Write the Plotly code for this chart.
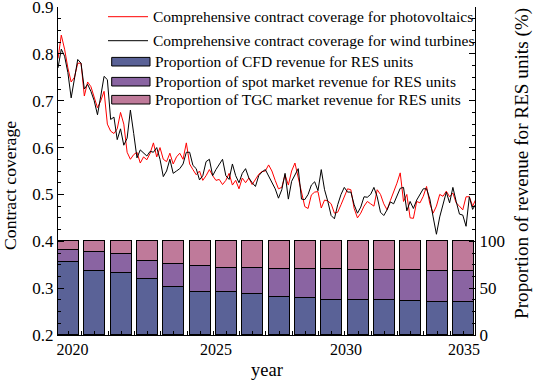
import plotly.graph_objects as go

# ---------------- data ----------------
years = list(range(2020, 2036))
cfd_share = [78.0, 68.6, 66.0, 59.7, 50.7, 46.4, 45.4, 43.3, 40.1, 39.0, 37.6, 37.3, 37.0, 36.2, 35.7, 35.0]
spot_share = [12.3, 20.4, 20.5, 18.9, 25.1, 26.8, 26.2, 27.7, 30.1, 31.5, 32.3, 31.9, 32.6, 32.8, 33.1, 33.4]
tgc_share = [9.7, 11.0, 13.5, 21.4, 24.2, 26.8, 28.4, 29.0, 29.8, 29.5, 30.1, 30.8, 30.4, 31.0, 31.2, 31.6]

# contract coverage series sampled every 1.5 months from the start of the horizon
pv_coverage = [
    0.79, 0.84, 0.81, 0.77, 0.74, 0.75, 0.78, 0.78, 0.71, 0.74,
    0.73, 0.705, 0.685, 0.70, 0.72, 0.65, 0.635, 0.63, 0.64, 0.675,
    0.65, 0.59, 0.575, 0.585, 0.59, 0.567, 0.58, 0.574, 0.588, 0.61,
    0.58, 0.60, 0.575, 0.57, 0.588, 0.565, 0.58, 0.588, 0.575, 0.61,
    0.565, 0.553, 0.542, 0.55, 0.53, 0.54, 0.553, 0.54, 0.53, 0.532,
    0.521, 0.53, 0.545, 0.52, 0.53, 0.512, 0.535, 0.525, 0.535, 0.521,
    0.532, 0.543, 0.549, 0.55, 0.563, 0.55, 0.53, 0.512, 0.515, 0.542,
    0.52, 0.55, 0.567, 0.535, 0.51, 0.474, 0.47, 0.499, 0.505, 0.506,
    0.471, 0.488, 0.486, 0.48, 0.46, 0.462, 0.478, 0.495, 0.512, 0.51,
    0.47, 0.45, 0.46, 0.475, 0.485, 0.48, 0.475, 0.51, 0.50, 0.48,
    0.467, 0.487, 0.505, 0.524, 0.546, 0.485, 0.50, 0.45, 0.449, 0.485,
    0.482, 0.496, 0.517, 0.48, 0.46, 0.475, 0.50, 0.496, 0.507, 0.495,
    0.503, 0.482, 0.475, 0.467, 0.495, 0.495, 0.475, 0.49,
]
wind_coverage = [
    0.77, 0.81, 0.795, 0.76, 0.706, 0.75, 0.788, 0.78, 0.725, 0.735,
    0.72, 0.70, 0.67, 0.71, 0.752, 0.745, 0.66, 0.665, 0.617, 0.64,
    0.605, 0.62, 0.68, 0.63, 0.578, 0.595, 0.588, 0.582, 0.592, 0.59,
    0.60, 0.575, 0.538, 0.55, 0.575, 0.545, 0.55, 0.555, 0.565, 0.59,
    0.59, 0.562, 0.555, 0.531, 0.54, 0.57, 0.575, 0.54, 0.553, 0.565,
    0.575, 0.54, 0.532, 0.565, 0.54, 0.525, 0.545, 0.555, 0.535, 0.525,
    0.517, 0.54, 0.548, 0.553, 0.54, 0.527, 0.512, 0.492, 0.51, 0.545,
    0.49, 0.528, 0.54, 0.555, 0.49, 0.489, 0.50, 0.52, 0.527, 0.508,
    0.553, 0.51, 0.485, 0.455, 0.448, 0.478, 0.50, 0.515, 0.505, 0.505,
    0.478, 0.46, 0.473, 0.495, 0.494, 0.50, 0.515, 0.495, 0.462, 0.455,
    0.467, 0.484, 0.48, 0.497, 0.513, 0.515, 0.465, 0.485, 0.47, 0.488,
    0.499, 0.512, 0.512, 0.49, 0.452, 0.415, 0.452, 0.478, 0.505, 0.482,
    0.515, 0.485, 0.458, 0.456, 0.432, 0.495, 0.468, 0.48,
]
line_step = 0.125   # years between samples
year_tick_labels = ["2020", "2025", "2030", "2035"]
year_tick_pos = [0.55, 6.0, 10.94, 15.42]

series_names = [
    "Comprehensive contract coverage for photovoltaics",
    "Comprehensive contract coverage for wind turbines",
    "Proportion of CFD revenue for RES units",
    "Proportion of spot market revenue for RES units",
    "Proportion of TGC market revenue for RES units",
]

# ---------------- style ----------------
FONT = "Liberation Serif, Times New Roman, serif"
C_PV = "#ff0000"
C_WIND = "#000000"
C_CFD = "#5a6297"
C_SPOT = "#8a64a2"
C_TGC = "#bf7a9a"

W, H = 533, 382
ML, MR, MT, MB = 58, 58, 7, 47
PW, PH = W - ML - MR, H - MT - MB


def px_x(px):
    return (px - ML) / PW


def px_y(py):
    return (H - MB - py) / PH


bar_x = [i + 0.4 for i in range(len(years))]
line_x_pv = [k * line_step for k in range(len(pv_coverage))]
line_x_wind = [k * line_step for k in range(len(wind_coverage))]

fig = go.Figure()
fig.add_trace(go.Scatter(x=line_x_pv, y=pv_coverage, mode="lines",
                         line=dict(color=C_PV, width=1), name=series_names[0], yaxis="y"))
fig.add_trace(go.Scatter(x=line_x_wind, y=wind_coverage, mode="lines",
                         line=dict(color=C_WIND, width=1), name=series_names[1], yaxis="y"))
bar_line = dict(color="#000000", width=1)
fig.add_trace(go.Bar(x=bar_x, y=cfd_share, width=0.8, marker=dict(color=C_CFD, line=bar_line),
                     name=series_names[2], yaxis="y2"))
fig.add_trace(go.Bar(x=bar_x, y=spot_share, width=0.8, marker=dict(color=C_SPOT, line=bar_line),
                     name=series_names[3], yaxis="y2"))
fig.add_trace(go.Bar(x=bar_x, y=tgc_share, width=0.8, marker=dict(color=C_TGC, line=bar_line),
                     name=series_names[4], yaxis="y2"))

minor_x = sorted([i + 0.4 for i in range(16)] + [i + 0.9 for i in range(16)])

# ---------- hand-drawn legend (wide bar swatches like the original) ----------
shapes = []
annotations = []
legend_rows_y = [16.7, 40.7, 61.7, 81.7, 99.7]
for i, name in enumerate(series_names):
    yc = legend_rows_y[i]
    if i < 2:
        shapes.append(dict(type="line", xref="paper", yref="paper",
                           x0=px_x(108), x1=px_x(148), y0=px_y(yc), y1=px_y(yc),
                           line=dict(color=[C_PV, C_WIND][i], width=1)))
        tx = 150.5
    else:
        shapes.append(dict(type="rect", xref="paper", yref="paper",
                           x0=px_x(111.7), x1=px_x(150), y0=px_y(yc - 4.3), y1=px_y(yc + 4.3),
                           fillcolor=[C_CFD, C_SPOT, C_TGC][i - 2],
                           line=dict(color="black", width=1)))
        tx = 152.5
    annotations.append(dict(text=name, xref="paper", yref="paper", x=px_x(tx), y=px_y(yc),
                            xanchor="left", yanchor="middle", showarrow=False,
                            font=dict(family=FONT, size=15.5, color="black")))

annotations += [
    dict(text="Contract coverage", xref="paper", yref="paper", x=px_x(10), y=px_y(186),
         xanchor="center", yanchor="middle", textangle=-90, showarrow=False,
         font=dict(family=FONT, size=17.7)),
    dict(text="Proportion of revenue for RES units (%)", xref="paper", yref="paper",
         x=px_x(522), y=px_y(164), xanchor="center", yanchor="middle", textangle=-90,
         showarrow=False, font=dict(family=FONT, size=19.2)),
    dict(text="year", xref="paper", yref="paper", x=0.5, y=px_y(370),
         xanchor="center", yanchor="middle", showarrow=False,
         font=dict(family=FONT, size=18.5)),
]

fig.update_layout(
    width=W, height=H,
    margin=dict(l=ML, r=MR, t=MT, b=MB, autoexpand=False),
    paper_bgcolor="white", plot_bgcolor="white",
    barmode="stack", bargap=0,
    font=dict(family=FONT, size=16, color="black"),
    showlegend=False,
    shapes=shapes,
    annotations=annotations,
    xaxis=dict(range=[0, 15.84], showgrid=False, zeroline=False, automargin=False,
               showline=True, linecolor="black", linewidth=1, mirror=False,
               tickmode="array", tickvals=year_tick_pos, ticktext=year_tick_labels,
               ticks="", tickfont=dict(size=16),
               minor=dict(tickmode="array", tickvals=minor_x, ticks="inside",
                          ticklen=4, tickcolor="black", showgrid=False)),
    yaxis=dict(range=[0.2, 0.9], showgrid=False, zeroline=False, automargin=False,
               showline=True, linecolor="black", linewidth=1,
               tickmode="array", tickvals=[0.2, 0.3, 0.4, 0.5, 0.6, 0.7, 0.8, 0.9],
               ticktext=["0.2", "0.3", "0.4", "0.5", "0.6", "0.7", "0.8", "0.9"],
               ticklabeloverflow="allow",
               ticks="inside", ticklen=6, tickcolor="black", tickfont=dict(size=17),
               minor=dict(tickmode="linear", tick0=0.2, dtick=0.025, ticks="inside",
                          ticklen=3, tickcolor="black", showgrid=False)),
    yaxis2=dict(range=[0, 350], overlaying="y", side="right", showgrid=False, zeroline=False,
                automargin=False,
                showline=True, linecolor="black", linewidth=1,
                tickmode="array", tickvals=[0, 50, 100, 150, 200, 250, 300, 350],
                ticktext=["0", "50", "100", "", "", "", "", ""],
                ticklabeloverflow="allow",
                ticks="inside", ticklen=6, tickcolor="black", tickfont=dict(size=17),
                minor=dict(tickmode="linear", tick0=0, dtick=12.5, ticks="inside",
                           ticklen=3, tickcolor="black", showgrid=False)),
)

fig.write_html("out.html", config={"displayModeBar": False},
               post_script="document.body.style.margin='0';document.body.style.overflow='hidden';")
